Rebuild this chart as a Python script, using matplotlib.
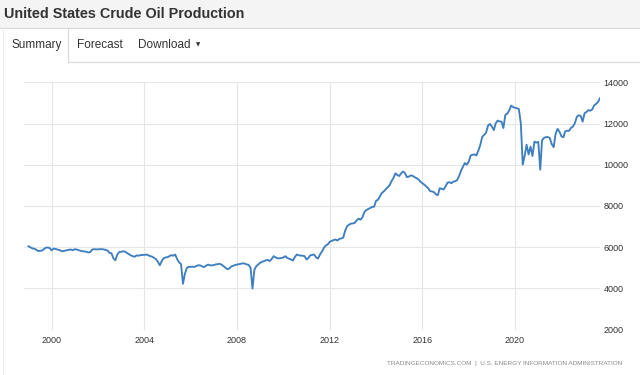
#!/usr/bin/env python
# United States crude oil production, monthly (thousand barrels per day)
import numpy as np
import matplotlib
matplotlib.use('Agg')
import matplotlib.pyplot as plt
import matplotlib.dates as mdates
from matplotlib.lines import Line2D
from matplotlib.patches import Rectangle

plt.rcParams['font.family'] = ['Liberation Sans', 'DejaVu Sans']

title = 'United States Crude Oil Production'
tabs = ['Summary', 'Forecast', 'Download']
source = 'TRADINGECONOMICS.COM  |  U.S. ENERGY INFORMATION ADMINISTRATION'

# monthly values, Jan..Dec of each year
p1999 = [6040, 5990, 5940, 5920, 5880, 5810, 5820, 5830, 5900, 5970, 5980, 5950]
p2000 = [5840, 5930, 5910, 5880, 5860, 5810, 5800, 5830, 5850, 5870, 5880, 5850]
p2001 = [5900, 5880, 5850, 5820, 5800, 5790, 5770, 5740, 5760, 5880, 5900, 5890]
p2002 = [5890, 5900, 5900, 5890, 5860, 5830, 5720, 5700, 5450, 5360, 5640, 5760]
p2003 = [5770, 5800, 5780, 5720, 5660, 5600, 5560, 5530, 5600, 5580, 5610, 5620]
p2004 = [5620, 5640, 5610, 5560, 5540, 5480, 5420, 5290, 5120, 5320, 5460, 5500]
p2005 = [5510, 5560, 5610, 5580, 5640, 5420, 5260, 5180, 4220, 4700, 4990, 5040]
p2006 = [5040, 5050, 5040, 5080, 5120, 5110, 5060, 5030, 5100, 5150, 5120, 5110]
p2007 = [5130, 5160, 5170, 5190, 5150, 5080, 5000, 4930, 4960, 5060, 5090, 5130]
p2008 = [5150, 5170, 5190, 5210, 5200, 5160, 5140, 5000, 3990, 4900, 5080, 5160]
p2009 = [5240, 5290, 5320, 5360, 5380, 5320, 5430, 5560, 5500, 5450, 5460, 5470]
p2010 = [5500, 5560, 5480, 5430, 5400, 5350, 5520, 5640, 5600, 5590, 5580, 5560]
p2011 = [5400, 5480, 5600, 5620, 5640, 5500, 5440, 5640, 5780, 5960, 6080, 6130]
p2012 = [6260, 6300, 6340, 6370, 6320, 6400, 6420, 6460, 6800, 7010, 7090, 7140]
p2013 = [7150, 7180, 7300, 7380, 7330, 7450, 7700, 7800, 7850, 7900, 7950, 7960]
p2014 = [8250, 8300, 8450, 8620, 8700, 8800, 8900, 9000, 9200, 9350, 9580, 9500]
p2015 = [9450, 9580, 9670, 9600, 9400, 9420, 9480, 9460, 9390, 9350, 9280, 9180]
p2016 = [9100, 9030, 8950, 8860, 8720, 8700, 8670, 8560, 8520, 8860, 8830, 8800]
p2017 = [8950, 9130, 9150, 9100, 9170, 9200, 9250, 9450, 9700, 9900, 10080, 10000]
p2018 = [10150, 10450, 10480, 10500, 10450, 10680, 10950, 11350, 11450, 11550, 11900, 11980]
p2019 = [11850, 11680, 12000, 12140, 12100, 12090, 11780, 12420, 12480, 12640, 12870, 12800]
p2020 = [12760, 12740, 12700, 12000, 10000, 10450, 10970, 10500, 10880, 10420, 11120, 11070]
p2021 = [11110, 9760, 11180, 11300, 11340, 11340, 11300, 11000, 10850, 11500, 11740, 11600]
p2022 = [11380, 11330, 11620, 11650, 11640, 11790, 11850, 12020, 12320, 12400, 12370, 12090]
p2023 = [12500, 12560, 12650, 12620, 12680, 12880, 12950, 13050, 13230]

production = (p1999 + p2000 + p2001 + p2002 + p2003 + p2004 + p2005 + p2006 + p2007
              + p2008 + p2009 + p2010 + p2011 + p2012 + p2013 + p2014 + p2015 + p2016
              + p2017 + p2018 + p2019 + p2020 + p2021 + p2022 + p2023)
months = np.arange('1999-01', '2023-10', dtype='datetime64[M]').astype('datetime64[D]')

W, H = 640, 375
fig = plt.figure(figsize=(W / 100, H / 100), dpi=100)

# page furniture drawn in pixel coordinates
bg = fig.add_axes([0, 0, 1, 1])
bg.set_xlim(0, W)
bg.set_ylim(H, 0)
bg.axis('off')
bg.add_patch(Rectangle((0, 0), W, 27.5, color='#f4f4f4', lw=0))
bg.add_line(Line2D([0, W], [27.8, 27.8], color='#d9d9d9', lw=0.9))
bg.add_line(Line2D([68, W], [62, 62], color='#dcdcdc', lw=0.9))
bg.add_line(Line2D([68, 68], [28, 62], color='#dcdcdc', lw=0.9))
bg.add_line(Line2D([2.5, 2.5], [28, H], color='#eeeeee', lw=0.9))
bg.text(4, 13.5, title, fontsize=10.4, fontweight='bold', color='#333333',
        va='center', ha='left')
for label, x in zip(tabs, [11, 77, 138]):
    bg.text(x, 45, label, fontsize=8.5, color='#333333', va='center', ha='left')
bg.text(196, 44.5, '\u25BC', fontsize=4, color='#333333', va='center', ha='left',
        family=['DejaVu Sans'])
bg.text(387, 363, source, fontsize=4.55, color='#8a8a8a', va='center', ha='left')

# chart area
ax = fig.add_axes([24 / W, 1 - 329.5 / H, 576 / W, (329.5 - 82.3) / H])
ax.patch.set_alpha(0)
ax.plot(months, production, color='#3f7fbf', lw=1.35, solid_joinstyle='round')
ax.set_ylim(2000, 14000)
ax.set_yticks(np.arange(2000, 14001, 2000))
ax.set_xlim(np.datetime64('1998-10-22'), np.datetime64('2023-09-01'))
ax.xaxis.set_major_locator(mdates.YearLocator(4))
ax.xaxis.set_major_formatter(mdates.DateFormatter('%Y'))
ax.yaxis.tick_right()
ax.tick_params(axis='both', length=0, labelsize=6.5, colors='#333333')
ax.tick_params(axis='x', pad=4.5)
ax.tick_params(axis='y', pad=2.5)
ax.grid(True, color='#e6e6e6', lw=0.8)
ax.set_axisbelow(True)
for s in ax.spines.values():
    s.set_visible(False)

plt.savefig('out.png', dpi=100)
